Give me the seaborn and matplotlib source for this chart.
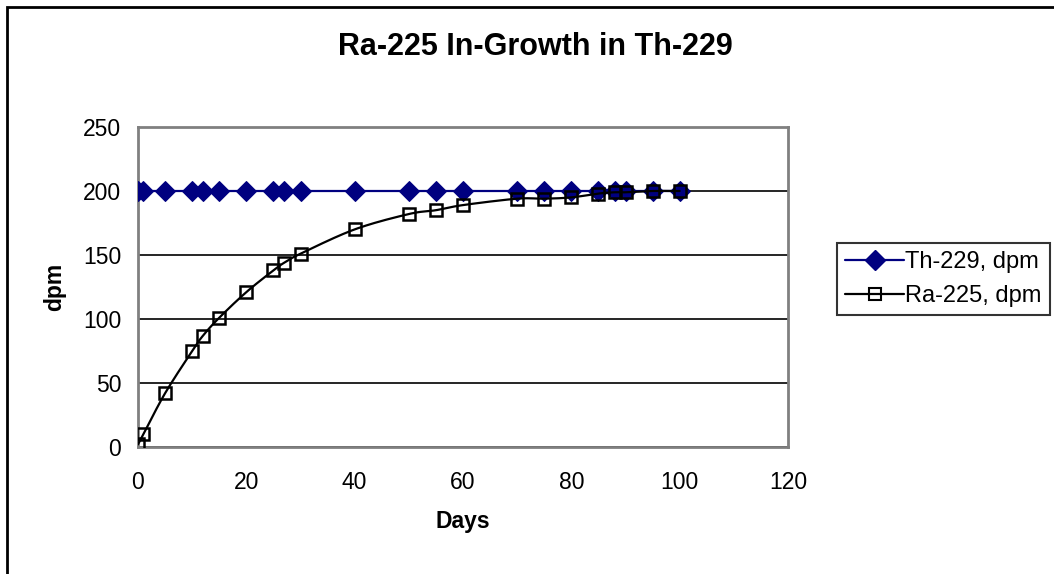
import numpy as np
import pandas as pd
import matplotlib
matplotlib.use("Agg")
import matplotlib.pyplot as plt
from matplotlib.lines import Line2D
from matplotlib.patches import Rectangle
import seaborn as sns

# ---- data ----
days = [0, 1, 5, 10, 12, 15, 20, 25, 27, 30, 40, 50, 55, 60, 70, 75, 80, 85, 88, 90, 95, 100]
th229 = [200] * len(days)
ra225 = [2, 10, 42, 75, 87, 101, 121, 138, 144, 151, 170, 182, 185, 189, 194, 194, 195, 198, 199, 199, 200, 200]
x_ticks = [0, 20, 40, 60, 80, 100, 120]
y_ticks = [0, 50, 100, 150, 200, 250]
title = "Ra-225 In-Growth in Th-229"
x_label = "Days"
y_label = "dpm"
series_names = ["Th-229, dpm", "Ra-225, dpm"]


def smooth(xs, ys, n=20):
    """Catmull-Rom style Bezier smoothing (like Excel's smoothed line)."""
    xs = np.asarray(xs, float)
    ys = np.asarray(ys, float)
    P = np.column_stack([xs, ys])
    out = [P[0]]
    for i in range(len(P) - 1):
        p0 = P[i - 1] if i > 0 else P[i]
        p1 = P[i]
        p2 = P[i + 1]
        p3 = P[i + 2] if i + 2 < len(P) else P[i + 1]
        c1 = p1 + (p2 - p0) / 6.0
        c2 = p2 - (p3 - p1) / 6.0
        t = np.linspace(0, 1, n + 1)[1:, None]
        pts = ((1 - t) ** 3) * p1 + 3 * ((1 - t) ** 2) * t * c1 + 3 * (1 - t) * t ** 2 * c2 + t ** 3 * p2
        out.extend(pts)
    out = np.array(out)
    return out[:, 0], out[:, 1]


sns.set_theme(style="white")
plt.rcParams["font.family"] = ["Liberation Sans", "DejaVu Sans"]
plt.rcParams["text.color"] = "black"
plt.rcParams["axes.labelcolor"] = "black"
plt.rcParams["xtick.color"] = "black"
plt.rcParams["ytick.color"] = "black"

W, H = 1054, 574
fig = plt.figure(figsize=(W / 100, H / 100), dpi=100)
fig.patch.set_facecolor("white")

left, right, top, bottom = 138, 788, 127, 447
ax = fig.add_axes([left / W, 1 - bottom / H, (right - left) / W, (bottom - top) / H])
ax.set_facecolor("white")

navy = "#000080"
df_th = pd.DataFrame({"Days": days, "dpm": th229})
sx, sy = smooth(days, ra225)
df_ra_line = pd.DataFrame({"Days": sx, "dpm": sy})
df_ra = pd.DataFrame({"Days": days, "dpm": ra225})

sns.lineplot(data=df_th, x="Days", y="dpm", ax=ax, color=navy, lw=1.6,
             marker="D", markersize=10.5, markeredgecolor=navy, markerfacecolor=navy,
             zorder=3, sort=False)
sns.lineplot(data=df_ra_line, x="Days", y="dpm", ax=ax, color="black", lw=1.6,
             zorder=4, sort=False)
ax.plot(df_ra["Days"], df_ra["dpm"], ls="none", marker="s", markersize=8.5,
        markerfacecolor="none", markeredgecolor="black", markeredgewidth=1.8, zorder=5)

ax.set_xlim(0, 120)
ax.set_ylim(0, 250)
ax.set_xticks(x_ticks)
ax.set_yticks(y_ticks)
ax.set_xticklabels([str(v) for v in x_ticks])
ax.set_yticklabels([str(v) for v in y_ticks])
ax.tick_params(axis="both", direction="out", length=6, width=1.5, color="#808080",
               labelsize=16.5, labelcolor="black")
ax.tick_params(axis="x", pad=11)
ax.tick_params(axis="y", pad=6)
ax.yaxis.grid(True, color="black", lw=1.2)
ax.xaxis.grid(False)
ax.set_axisbelow(True)
for s in ax.spines.values():
    s.set_visible(True)
    s.set_color("#808080")
    s.set_linewidth(2)

ax.set_xlabel(x_label, fontsize=16.5, fontweight="bold", labelpad=12, color="black")
ax.set_ylabel(y_label, fontsize=16.5, fontweight="bold", labelpad=12, color="black")

fig.text(535 / W, 1 - 47 / H, title, ha="center", va="center",
         fontsize=22, fontweight="bold", color="black")

handles = [
    Line2D([], [], color=navy, lw=1.6, marker="D", markersize=10.5,
           markerfacecolor=navy, markeredgecolor=navy),
    Line2D([], [], color="black", lw=1.6, marker="s", markersize=8,
           markerfacecolor="none", markeredgecolor="black", markeredgewidth=1.5),
]
leg = fig.legend(handles, series_names, loc="upper left",
                 bbox_to_anchor=(837 / W, 1 - 243 / H), fontsize=17,
                 frameon=True, fancybox=False, edgecolor="black",
                 handlelength=2.5, handletextpad=0.05, borderpad=0.35,
                 labelspacing=0.5, borderaxespad=0)
leg.get_frame().set_linewidth(1.5)
for t in leg.get_texts():
    t.set_color("black")

# outer chart border (left and top visible)
fig.add_artist(Rectangle((7 / W, -0.2), 1.2, 1.2 - 7 / H, transform=fig.transFigure,
                         fill=False, edgecolor="black", lw=2))

fig.savefig("out.png", dpi=100, facecolor="white")
